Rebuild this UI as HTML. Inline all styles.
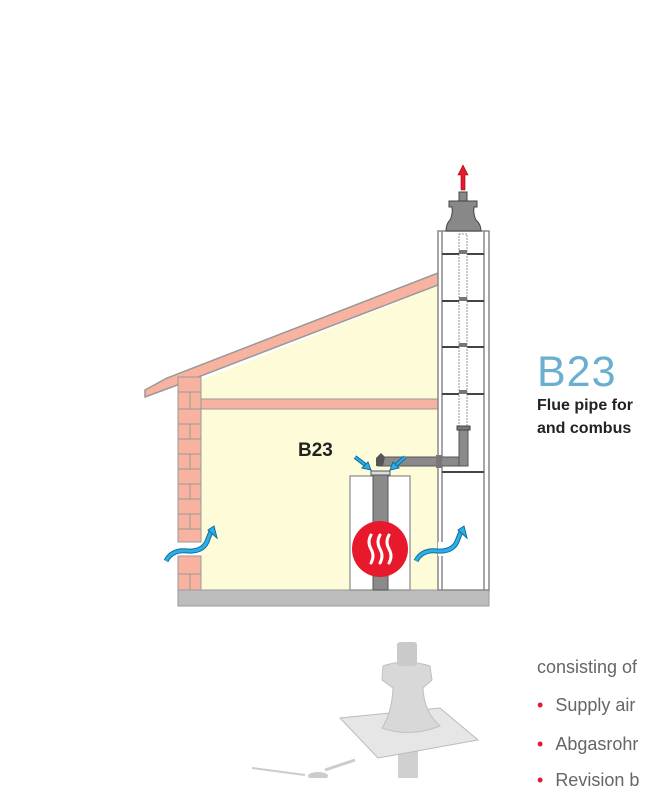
<!DOCTYPE html>
<html><head><style>
body{margin:0;width:652px;height:778px;overflow:hidden;background:#fff;font-family:"Liberation Sans",sans-serif;position:relative}
.t{position:absolute;white-space:nowrap}
</style></head><body>
<svg width="652" height="778" style="position:absolute;left:0;top:0">
<polygon points="201,380 438,286 438,590 201,590" fill="#fefbd8"/>
<polygon points="145,390 167,378 438,273 438,285 180,384 145,397" fill="#f7b2a0" stroke="#999" stroke-width="1.5"/>
<rect x="201" y="399" width="237" height="10" fill="#f7b2a0" stroke="#999" stroke-width="1"/>
<rect x="178" y="377" width="23" height="165" fill="#f7b2a0" stroke="#999"/>
<rect x="178" y="556" width="23" height="34" fill="#f7b2a0" stroke="#999"/>
<g stroke="#999" stroke-width="1">
<line x1="178" y1="392" x2="201" y2="392"/><line x1="178" y1="409" x2="201" y2="409"/><line x1="178" y1="424" x2="201" y2="424"/><line x1="178" y1="439" x2="201" y2="439"/><line x1="178" y1="454" x2="201" y2="454"/><line x1="178" y1="469" x2="201" y2="469"/><line x1="178" y1="484" x2="201" y2="484"/><line x1="178" y1="499" x2="201" y2="499"/><line x1="178" y1="514" x2="201" y2="514"/><line x1="178" y1="529" x2="201" y2="529"/><line x1="178" y1="574" x2="201" y2="574"/>
<line x1="190" y1="392" x2="190" y2="409"/><line x1="190" y1="424" x2="190" y2="439"/><line x1="190" y1="454" x2="190" y2="469"/><line x1="190" y1="484" x2="190" y2="499"/><line x1="190" y1="514" x2="190" y2="529"/><line x1="190" y1="574" x2="190" y2="590"/>
</g>
<rect x="178" y="590" width="311" height="16" fill="#bdbdbd" stroke="#999"/>
<rect x="438" y="231" width="51" height="359" fill="#fff" stroke="#888" stroke-width="1.5"/>
<line x1="442" y1="231" x2="442" y2="542" stroke="#888" stroke-width="1.5"/>
<line x1="442" y1="556" x2="442" y2="590" stroke="#888" stroke-width="1.5"/>
<line x1="484" y1="231" x2="484" y2="590" stroke="#888" stroke-width="1.5"/>
<rect x="438" y="542" width="4" height="14" fill="#fff"/>
<g stroke="#444" stroke-width="2">
<line x1="442" y1="254" x2="484" y2="254"/><line x1="442" y1="301" x2="484" y2="301"/><line x1="442" y1="347" x2="484" y2="347"/><line x1="442" y1="394" x2="484" y2="394"/><line x1="442" y1="472" x2="484" y2="472"/>
</g>
<rect x="459" y="234" width="8" height="195" fill="#fff" stroke="#777" stroke-width="0.8" stroke-dasharray="2,1"/>
<rect x="459" y="250" width="8" height="4" fill="#777"/><rect x="459" y="297" width="8" height="4" fill="#777"/><rect x="459" y="343" width="8" height="4" fill="#777"/><rect x="459" y="390" width="8" height="4" fill="#777"/>
<path d="M446,231 L481,231 Q481,224 476,220 Q473,214 474,207 L477,207 L477,201 L449,201 L449,207 L452,207 Q453,214 450,220 Q446,224 446,231 Z" fill="#888" stroke="#444"/>
<rect x="459" y="192" width="8" height="9" fill="#888" stroke="#444"/>
<path d="M461,190 L461,175 L458,175 L463,165 L468,175 L465,175 L465,190 Z" fill="#e8192c" stroke="#900" stroke-width="0.6"/>
<rect x="350" y="476" width="60" height="114" fill="#fff" stroke="#888" stroke-width="1.2"/>
<rect x="373" y="473" width="15" height="117" fill="#8a8a8a" stroke="#555"/>
<rect x="371" y="471" width="19" height="4" fill="#ddd" stroke="#555"/>
<rect x="378" y="457" width="88" height="9" fill="#8a8a8a" stroke="#555"/>
<rect x="459" y="427" width="9" height="39" fill="#8a8a8a" stroke="#555"/>
<rect x="457" y="426" width="13" height="4" fill="#777" stroke="#444"/>
<rect x="436" y="455" width="6" height="13" fill="#777"/>
<path d="M376,466 L376,458 L381,453 L385,457 L383,466 Z" fill="#555"/>
<circle cx="380" cy="549" r="28" fill="#e8192c"/>
<g stroke="#fff" stroke-width="3" fill="none" stroke-linecap="round">
<path d="M371,535 q-4,7 0,14 q4,7 0,14"/><path d="M380,535 q-4,7 0,14 q4,7 0,14"/><path d="M389,535 q-4,7 0,14 q4,7 0,14"/>
</g>
<g fill="none" stroke="#0d6fa0" stroke-width="5"><path d="M166,561 q6,-12 22,-10 q16,1 20,-12 l4,-10"/><path d="M416,561 q6,-12 22,-10 q16,1 20,-12 l4,-10"/></g>
<g fill="none" stroke="#2eaee4" stroke-width="3"><path d="M166,561 q6,-12 22,-10 q16,1 20,-12 l4,-10"/><path d="M416,561 q6,-12 22,-10 q16,1 20,-12 l4,-10"/></g>
<polygon points="208,530 214,526 217,538" fill="#2eaee4" stroke="#0d6fa0"/>
<polygon points="458,530 464,526 467,538" fill="#2eaee4" stroke="#0d6fa0"/>
<g stroke="#0d6fa0" stroke-width="4"><line x1="355" y1="457" x2="368" y2="467"/><line x1="405" y1="457" x2="394" y2="467"/></g>
<g stroke="#2eaee4" stroke-width="2"><line x1="355" y1="457" x2="368" y2="467"/><line x1="405" y1="457" x2="394" y2="467"/></g>
<polygon points="371,470 362,468 368,462" fill="#2eaee4" stroke="#0d6fa0"/>
<polygon points="390,470 399,468 393,462" fill="#2eaee4" stroke="#0d6fa0"/>
<rect x="398" y="740" width="20" height="38" fill="#d0d0d0"/>
<polygon points="340,718 440,708 478,740 378,758" fill="#e6e6e6" stroke="#bbb"/>
<path d="M382,728 Q392,712 393,688 L382,680 L383,666 Q405,658 430,666 L432,680 L423,688 Q424,712 440,726 Q410,738 382,728 Z" fill="#d8d8d8" stroke="#c0c0c0"/>
<rect x="397" y="642" width="20" height="24" fill="#cacaca" rx="3"/>
<line x1="252" y1="768" x2="305" y2="775" stroke="#ccc" stroke-width="2"/>
<line x1="325" y1="770" x2="355" y2="760" stroke="#ccc" stroke-width="3"/>
<ellipse cx="318" cy="776" rx="10" ry="4" fill="#ccc"/>
</svg>
<div class="t" style="left:298px;top:440px;font-size:19px;font-weight:bold;color:#222">B23</div>
<div class="t" style="left:537px;top:348px;font-size:43px;color:#6aaed0;letter-spacing:1px">B23</div>
<div class="t" style="left:537px;top:394px;font-size:16px;font-weight:bold;color:#222;line-height:23px">Flue pipe for<br>and combus</div>
<div class="t" style="left:537px;top:657px;font-size:18px;color:#666">consisting of</div>
<div class="t" style="left:537px;top:695px;font-size:18px;color:#666"><span style="color:#e8192c;margin-right:12px">•</span>Supply air</div>
<div class="t" style="left:537px;top:734px;font-size:18px;color:#666"><span style="color:#e8192c;margin-right:12px">•</span>Abgasrohr</div>
<div class="t" style="left:537px;top:770px;font-size:18px;color:#666"><span style="color:#e8192c;margin-right:12px">•</span>Revision b</div>
</body></html>
